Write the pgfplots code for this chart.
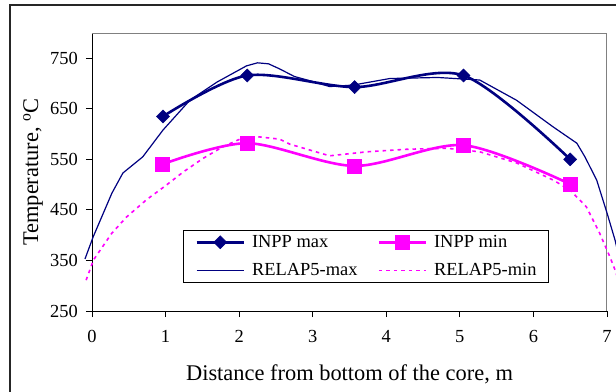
\documentclass[border=0pt]{standalone}
\usepackage{pgfplots}
\pgfplotsset{compat=1.18}
\usepackage{fontspec}
\setmainfont{Liberation Serif}
\definecolor{navy}{HTML}{000080}
\definecolor{mag}{HTML}{FF00FF}
\definecolor{frame}{HTML}{808080}
\newcommand{\tickfont}{\fontsize{18.5}{20}\selectfont}
\begin{document}
\begin{tikzpicture}
\begin{axis}[
  at={(0,0)}, anchor=south west,
  scale only axis, width=515bp, height=278bp,
  xmin=0, xmax=7, ymin=250, ymax=800,
  clip=false,
  axis x line*=bottom, axis y line*=left,
  axis line style={black, line width=0.9bp},
  xtick={0,1,...,7}, ytick={250,350,450,550,650,750},
  tick align=outside, tick pos=left,
  major tick length=6bp,
  tick style={black, line width=0.9bp},
  /pgf/number format/assume math mode=true,
  every tick label/.append style={font=\tickfont},
  xticklabel style={anchor=north, inner sep=0pt, yshift=-13bp},
  yticklabel style={anchor=east, inner sep=0pt, xshift=-8bp},
  xticklabel={\tickfont\pgfmathprintnumber{\tick}},
  yticklabel={\tickfont\pgfmathprintnumber{\tick}},
  every axis x label/.style={at={(axis description cs:0.5,0)}, anchor=base, yshift=-69bp, font=\fontsize{22.5}{24}\selectfont},
  every axis y label/.style={at={(axis description cs:-0.1146,0.5)}, rotate=90, anchor=center, font=\fontsize{22.5}{24}\selectfont},
  xlabel={Distance from bottom of the core, m},
  ylabel={Temperature, \textsuperscript{o}C},
  legend columns=2,
  legend cell align=left,
  legend image code/.code={\draw[mark repeat=2,mark phase=2,#1] plot coordinates {(0bp,0bp) (23.5bp,0bp) (47bp,0bp)};},
  legend style={at={(axis description cs:0.1767,0.1007)}, anchor=south west,
    draw=black, line width=0.9bp, inner xsep=12bp, inner ysep=3.5bp,
    font=\fontsize{18.5}{21}\selectfont,
    nodes={inner sep=0pt, text height=13.5bp, text depth=4bp},
    column sep=0pt, row sep=10.5bp,
    /tikz/every odd column/.append style={column sep=7bp},
    /tikz/every even column/.append style={column sep=20bp}},
]
\draw[frame, line width=1bp] (rel axis cs:0,1) -- (rel axis cs:1,1) -- (rel axis cs:1,0);
\addplot[navy, line width=2.6bp, smooth, mark=square*, mark size=4.6bp, mark options={rotate=45, solid, line width=0.5bp}]
  coordinates {(0.965,635) (2.11,716) (3.57,693) (5.05,716) (6.5,550)};
\addlegendentry{INPP max}
\addplot[mag, line width=2.6bp, smooth, mark=square*, mark size=7bp, mark options={solid, line width=0.5bp}]
  coordinates {(0.95,540) (2.11,582) (3.57,537) (5.05,578) (6.5,501)};
\addlegendentry{INPP min}
\addplot[navy, line width=1.2bp]
  coordinates {(-0.095,353) (0.014,396) (0.27,483) (0.42,523) (0.69,555) (0.965,608) (1.33,667) (1.7,703) (1.95,723) (2.1,735) (2.25,741) (2.4,739) (2.55,729) (2.75,714) (3.0,704) (3.23,694) (3.55,697) (4.05,710) (4.7,712) (5.27,707) (5.77,667) (6.27,614) (6.59,582) (6.70,555) (6.86,509) (7.0,444) (7.11,390) (7.15,365)};
\addlegendentry{RELAP5-max}
\addplot[mag, line width=1.6bp, dash pattern=on 3.5bp off 4bp]
  coordinates {(-0.08,311) (0.02,351) (0.27,404) (0.47,436) (0.74,470) (1.01,499) (1.24,525) (1.51,552) (1.78,575) (2.01,590) (2.24,595) (2.55,590) (2.69,580) (3.23,557) (3.74,565) (4.28,570) (4.82,572) (5.27,565) (5.77,543) (6.27,509) (6.5,489) (6.72,456) (6.9,404) (7.04,357) (7.11,331) (7.14,318)};
\addlegendentry{RELAP5-min}
\end{axis}
\draw[black!85, line width=1.2bp] (-82bp,-150bp) rectangle (600bp,306bp);
\pgfresetboundingbox
\useasboundingbox (-92bp,-81bp) rectangle (524bp,311bp);
\end{tikzpicture}
\end{document}
